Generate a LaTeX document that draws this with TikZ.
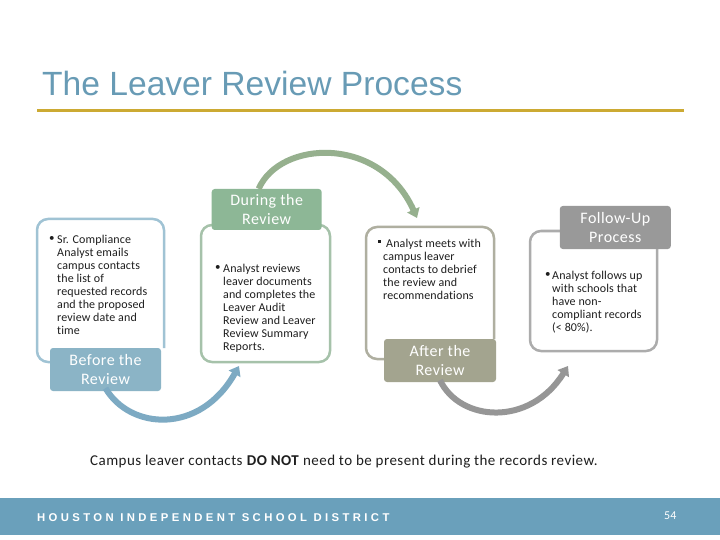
\documentclass[tikz,border=0pt]{standalone}
\usepackage{fontspec}
\setmainfont{Carlito}[Ligatures=NoCommon]
\newfontfamily\titlefont{Liberation Sans}
\newfontfamily\footfont[LetterSpace=30]{Liberation Sans Bold}
\newfontfamily\bodyfont[LetterSpace=1,Ligatures=NoCommon]{Carlito}
\newfontfamily\lblfont[LetterSpace=3]{Carlito}
\usetikzlibrary{arrows.meta}
\definecolor{bluelbl}{RGB}{139,180,198}
\definecolor{blueline}{RGB}{160,195,212}
\definecolor{bluearrow}{RGB}{125,170,195}
\definecolor{greenlbl}{RGB}{141,183,150}
\definecolor{greenline}{RGB}{166,194,170}
\definecolor{greenarrow}{RGB}{150,176,142}
\definecolor{olivelbl}{RGB}{163,164,143}
\definecolor{oliveline}{RGB}{175,175,160}
\definecolor{graylbl}{RGB}{153,153,153}
\definecolor{grayline}{RGB}{172,172,172}
\definecolor{grayarrow}{RGB}{150,150,150}
\definecolor{titlecol}{RGB}{104,155,181}
\definecolor{goldcol}{RGB}{204,170,51}
\definecolor{footcol}{RGB}{106,160,187}
\definecolor{bodytext}{RGB}{30,30,30}
\begin{document}
\begin{tikzpicture}[x=1pt,y=-1pt,
  outline/.style={line width=2.5pt,rounded corners=11pt},
  lbl/.style={rounded corners=3pt,inner sep=0pt,text=white,align=center,
    font=\lblfont\fontsize{16}{18.5}\selectfont},
  body/.style={anchor=north west,inner sep=0pt,align=left,text=bodytext,
    font=\bodyfont\fontsize{12}{13}\selectfont},
  bul/.style={anchor=north west,inner sep=0pt,text=bodytext,
    font=\fontsize{11}{13}\selectfont},
  flow/.style={line width=6pt,-{Triangle[length=9pt,width=13pt]}}]
\useasboundingbox (0,0) rectangle (720,540);
\fill[white] (0,0) rectangle (720,540);
% title
\node[anchor=base west,inner sep=0pt,text=titlecol,font=\titlefont\fontsize{33.6}{36}\selectfont] (title) at (42,96) {The Leaver Review Process};
\coordinate (g1) at (37,111);
\coordinate (g2) at (684,111);
\draw[goldcol,line width=3pt] (g1) -- (g2);
% outlines
\draw[outline,blueline] (164,348) -- (164,219) -- (37,219) -- (37,362) -- (51,362);
\draw[outline,greenline] (201,225) rectangle (330,362);
\draw[outline,oliveline] (494,339) -- (494,227) -- (366,227) -- (366,359) -- (385,359);
\draw[outline,grayline] (530,231) rectangle (657,351);
% labels
\node[lbl,fill=bluelbl,minimum width=111pt,minimum height=43pt] (L1) at (105.5,369.5) {Before the\\Review};
\node[lbl,fill=greenlbl,minimum width=110pt,minimum height=41pt] (L2) at (266.7,209.5) {During the\\Review};
\node[lbl,fill=olivelbl,minimum width=112pt,minimum height=43pt] (L3) at (440,360.5) {After the\\Review};
\node[lbl,fill=graylbl,minimum width=111pt,minimum height=43pt] (L4) at (615.3,227.5) {Follow-Up\\Process};
% body texts
\node[bul] (b1) at (49,236) {\textbullet};
\node[body] (t1) at (57,235) {Sr. Compliance\\Analyst emails\\campus contacts\\the list of\\requested records\\and the proposed\\review date and\\time};
\node[bul] (b2) at (215,265) {\textbullet};
\node[body] (t2) at (223,264) {Analyst reviews\\leaver documents\\and completes the\\Leaver Audit\\Review and Leaver\\Review Summary\\Reports.};
\node[bul] (b3) at (378,240) {\rule[2.2pt]{2.3pt}{2.3pt}};
\node[body] (t3) at (383,239) {\hspace{3pt}Analyst meets with\\campus leaver\\contacts to debrief\\the review and\\recommendations};
\node[bul] (b4) at (545,272) {\textbullet};
\node[body] (t4) at (552,271) {Analyst follows up\\with schools that\\have non-\\compliant records\\(< 80\%).};
% flow arrows
\draw[flow,bluearrow] (L1.south) ++(0,-3) .. controls (130,430) and (200,435) .. (239,366);
\draw[flow,greenarrow] (L2.north) ++(-8,0) .. controls (280,140) and (380,135) .. (417,218);
\draw[flow,grayarrow] (L3.south) ++(0,-2) .. controls (460,422) and (530,427) .. (568,366);
% note
\node[anchor=base west,inner sep=0pt,text=bodytext,font=\fontsize{15}{17}\selectfont] (note) at (90,465) {\addfontfeature{LetterSpace=3}Campus leaver contacts \textbf{DO NOT} need to be present during the records review.};
% footer
\fill[footcol] (0,498) rectangle (720,535);
\node[anchor=base west,inner sep=0pt,text=white,font=\footfont\fontsize{11.3}{13}\selectfont] (hisd) at (37,521) {HOUSTON INDEPENDENT SCHOOL DISTRICT};
\node[anchor=base west,inner sep=0pt,text=white,font=\fontsize{12}{14}\selectfont] (pg) at (664,519) {54};
\end{tikzpicture}
\end{document}
